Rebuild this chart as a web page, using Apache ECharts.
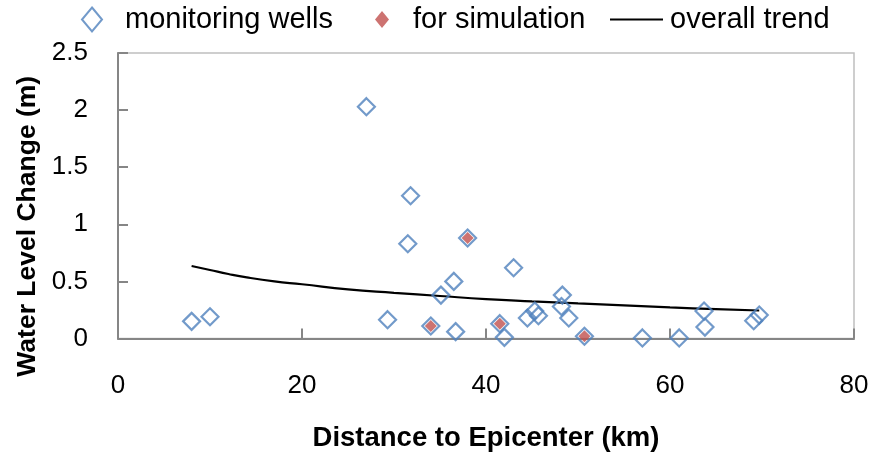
<!DOCTYPE html>
<html>
<head>
<meta charset="utf-8">
<script src="https://cdn.jsdelivr.net/npm/echarts@6/dist/echarts.min.js"></script>
<style>
  html, body { margin: 0; padding: 0; background: #fff; }
  #chart { width: 876px; height: 459px; }
</style>
</head>
<body>
<div id="chart"></div>
<script>
// Monitoring wells: distance to epicenter (km) and water level change (m)
const wellDistance = [8.0, 10.0, 27.0, 29.3, 31.5, 31.8, 34.0, 35.1, 36.5, 36.7, 38.0, 41.5, 42.0, 43.0,
                      44.5, 45.3, 45.7, 48.3, 48.2, 49.0, 50.7, 57.0, 61.0, 63.7, 63.8, 69.1, 69.7];
const wellChange   = [0.15, 0.19, 2.03, 0.165, 0.83, 1.25, 0.11, 0.38, 0.50, 0.06, 0.88, 0.13, 0.01, 0.62,
                      0.18, 0.24, 0.20, 0.38, 0.28, 0.18, 0.02, 0.005, 0.005, 0.24, 0.10, 0.155, 0.205];

// Wells selected for simulation
const simDistance = [34.0, 38.0, 41.5, 50.7];
const simChange   = [0.11, 0.88, 0.13, 0.02];

// Overall trend curve
const trendDistance = [8, 10, 12, 14, 17, 20, 25, 30, 35, 40, 45, 50, 55, 60, 65, 69.7];
const trendChange   = [0.635, 0.60, 0.565, 0.535, 0.50, 0.475, 0.43, 0.40, 0.372, 0.345, 0.325, 0.307, 0.29, 0.272, 0.258, 0.245];

// Axis ticks
const xTicks = { min: 0, max: 80, interval: 20 };
const yTicks = { min: 0, max: 2.5, interval: 0.5 };

const zip = (a, b) => a.map((v, i) => [v, b[i]]);

const FONT = 'Liberation Sans';
const blue = '#4f81bd';
const red = '#c0504d';
const axisGray = '#868686';

const chart = echarts.init(document.getElementById('chart'), null, { renderer: 'canvas' });

const legendText = { fontFamily: FONT, fontSize: 29, color: '#000' };

chart.setOption({
  animation: false,
  backgroundColor: '#fff',
  legend: [
    {
      left: 81, top: 5, padding: 0, itemWidth: 20, itemHeight: 24,
      data: [{ name: 'monitoring wells', icon: 'diamond' }],
      textStyle: Object.assign({ padding: [0, 0, 0, 18] }, legendText)
    },
    {
      left: 375, top: 5, padding: 0, itemWidth: 14, itemHeight: 17,
      data: [{ name: 'for simulation', icon: 'diamond' }],
      textStyle: Object.assign({ padding: [0, 0, 0, 19] }, legendText)
    },
    {
      left: 610, top: 5, padding: 0, itemWidth: 53, itemHeight: 2,
      data: [{ name: 'overall trend', icon: 'rect' }],
      itemStyle: { color: '#000', borderWidth: 0 },
      textStyle: Object.assign({ padding: [0, 0, 0, 2] }, legendText)
    }
  ],
  grid: {
    left: 118, right: 22, top: 53, bottom: 120.5,
    outerBoundsMode: 'none',
    containLabel: false,
    show: true, borderColor: '#bfbfbf', borderWidth: 1.5
  },
  xAxis: {
    type: 'value',
    min: xTicks.min, max: xTicks.max, interval: xTicks.interval,
    name: 'Distance to Epicenter (km)',
    nameLocation: 'middle', nameGap: 86,
    nameTextStyle: { fontFamily: FONT, fontSize: 27.5, fontWeight: 'bold', color: '#000' },
    axisLine: { lineStyle: { color: axisGray, width: 2 } },
    axisTick: { inside: true, length: 10, lineStyle: { color: axisGray, width: 2 } },
    axisLabel: { margin: 34, fontFamily: FONT, fontSize: 26, color: '#000' },
    splitLine: { show: false }
  },
  yAxis: {
    type: 'value',
    min: yTicks.min, max: yTicks.max, interval: yTicks.interval,
    name: 'Water Level Change (m)',
    nameLocation: 'middle', nameGap: 74, nameRotate: 90,
    nameTextStyle: {
      fontFamily: FONT, fontSize: 26.5, fontWeight: 'bold', color: '#000',
      padding: [0, 61, 0, 0]
    },
    axisLine: { show: true, lineStyle: { color: axisGray, width: 2 } },
    axisTick: { show: true, inside: true, length: 10, lineStyle: { color: axisGray, width: 2 } },
    axisLabel: { margin: 30, fontFamily: FONT, fontSize: 26, color: '#000' },
    splitLine: { show: false }
  },
  series: [
    {
      name: 'overall trend',
      type: 'line',
      data: zip(trendDistance, trendChange),
      smooth: true,
      symbol: 'none',
      lineStyle: { color: '#000', width: 2.2 },
      itemStyle: { color: '#000' },
      z: 1
    },
    {
      name: 'monitoring wells',
      type: 'scatter',
      data: zip(wellDistance, wellChange),
      symbol: 'diamond',
      symbolSize: 17,
      itemStyle: { color: 'rgba(255,255,255,0)', borderColor: blue, borderWidth: 2.2 },
      z: 2
    },
    {
      name: 'for simulation',
      type: 'scatter',
      data: zip(simDistance, simChange),
      symbol: 'diamond',
      symbolSize: 12,
      itemStyle: { color: red },
      z: 3
    }
  ]
});
</script>
</body>
</html>
